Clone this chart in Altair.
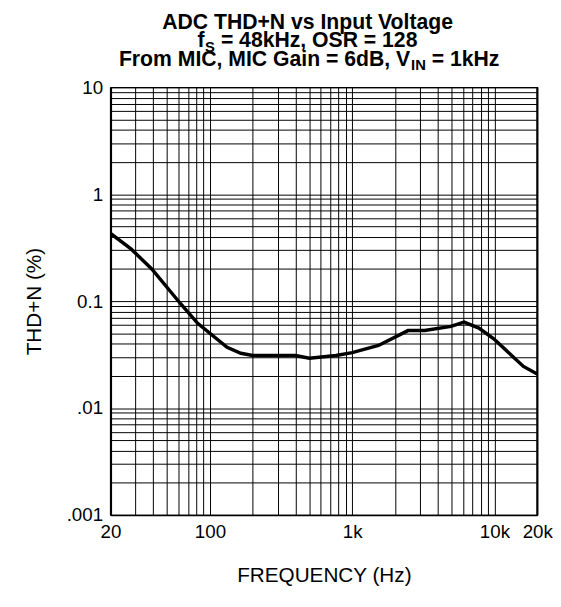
import altair as alt
import pandas as pd

# ---- data ----
freq_hz = [20, 28, 39, 62, 82, 132, 165, 200, 300, 400, 500, 770, 1000,
           1530, 2470, 3230, 4950, 6120, 7780, 9890, 16000, 20000]
thdn_pct = [0.43, 0.306, 0.2, 0.095, 0.062, 0.037, 0.0325, 0.031, 0.031, 0.031,
            0.0292, 0.031, 0.033, 0.0385, 0.053, 0.0532, 0.058, 0.0637, 0.056,
            0.0444, 0.0245, 0.0208]

x_grid = [20, 30, 40, 50, 60, 70, 80, 90,
          100, 200, 300, 400, 500, 600, 700, 800, 900,
          1000, 2000, 3000, 4000, 5000, 6000, 7000, 8000, 9000,
          10000, 20000]
x_labels = {20: "20", 100: "100", 1000: "1k", 10000: "10k", 20000: "20k"}

y_grid = [round(m * d, 6) for d in [0.001, 0.01, 0.1, 1] for m in range(1, 10)] + [10]
y_labels = {10: "10", 1: "1", 0.1: "0.1", 0.01: ".01", 0.001: ".001"}

title_line1 = "ADC THD+N vs Input Voltage"
title_line2 = ["f", "S", "= 48kHz, OSR = 128"]
title_line3 = ["From MIC, MIC Gain = 6dB, V", "IN", "= 1kHz"]

FONT = "Liberation Sans"
W, H = 433, 434

df = pd.DataFrame({"f": freq_hz, "thd": thdn_pct})

def label_expr(d):
    parts = [f"datum.value == {k} ? '{v}'" for k, v in d.items()]
    return " : ".join(parts) + " : ''"

xscale = alt.Scale(type="log", domain=[20, 20000], nice=False)
yscale = alt.Scale(type="log", domain=[0.001, 10], nice=False)

xaxis = alt.Axis(values=x_grid, labelExpr=label_expr(x_labels), grid=True,
                 gridColor="black", gridOpacity=1, gridWidth=1, ticks=False,
                 domainColor="black", domainWidth=1.5, labelFont=FONT,
                 labelFontSize=19, labelColor="black", labelPadding=8,
                 labelOverlap=False, labelFlush=False,
                 title="FREQUENCY (Hz)", titleFont=FONT, titleFontSize=21,
                 titleFontWeight="normal", titleColor="black",
                 titleY=62, titleBaseline="middle")
yaxis = alt.Axis(values=y_grid, labelExpr=label_expr(y_labels), grid=True,
                 gridColor="black", gridOpacity=1, gridWidth=1, ticks=False,
                 domainColor="black", domainWidth=2.2, labelFont=FONT,
                 labelFontSize=19, labelColor="black", labelPadding=8,
                 labelOverlap=False, labelFlush=False,
                 title="THD+N (%)", titleFont=FONT, titleFontSize=21,
                 titleFontWeight="normal", titleColor="black",
                 titleX=-77, titleY=H / 2, titleAngle=-90, titleBaseline="middle")

line = alt.Chart(df).mark_line(color="black", strokeWidth=3.5, clip=True).encode(
    x=alt.X("f:Q", scale=xscale, axis=xaxis),
    y=alt.Y("thd:Q", scale=yscale, axis=yaxis),
)

right_edge = alt.Chart(pd.DataFrame({"f": [freq_hz[-1]]})).mark_rule(
    color="black", strokeWidth=2).encode(x=alt.X("f:Q", scale=xscale))

def txt(s, x, y, size=21.5, align="center", weight="bold"):
    return alt.Chart(pd.DataFrame({"t": [s]})).mark_text(
        font=FONT, fontSize=size, fontWeight=weight, align=align,
        baseline="alphabetic", color="black").encode(
        text="t:N", x=alt.value(x), y=alt.value(y))

ox, oy = 112, 84  # plot origin on the page
titles = [
    txt(title_line1, 312 - ox, 25 - oy),
    txt(title_line2[0], 207.5 - ox, 43 - oy, align="right"),
    txt(title_line2[1], 208 - ox, 48 - oy, size=15, align="left"),
    txt(title_line2[2], 224 - ox, 43 - oy, align="left"),
    txt(title_line3[0], 416 - ox, 62 - oy, align="right"),
    txt(title_line3[1], 417 - ox, 67 - oy, size=15, align="left"),
    txt(title_line3[2], 438 - ox, 62 - oy, align="left"),
]

chart = alt.layer(line, right_edge, *titles).properties(
    width=W, height=H,
    autosize=alt.AutoSizeParams(type="none"),
    padding={"left": 104, "top": 76, "right": 16, "bottom": 90},
).configure_view(stroke="black", strokeWidth=1.2)

chart.save("out.html", embed_options={"renderer": "svg", "actions": False})
